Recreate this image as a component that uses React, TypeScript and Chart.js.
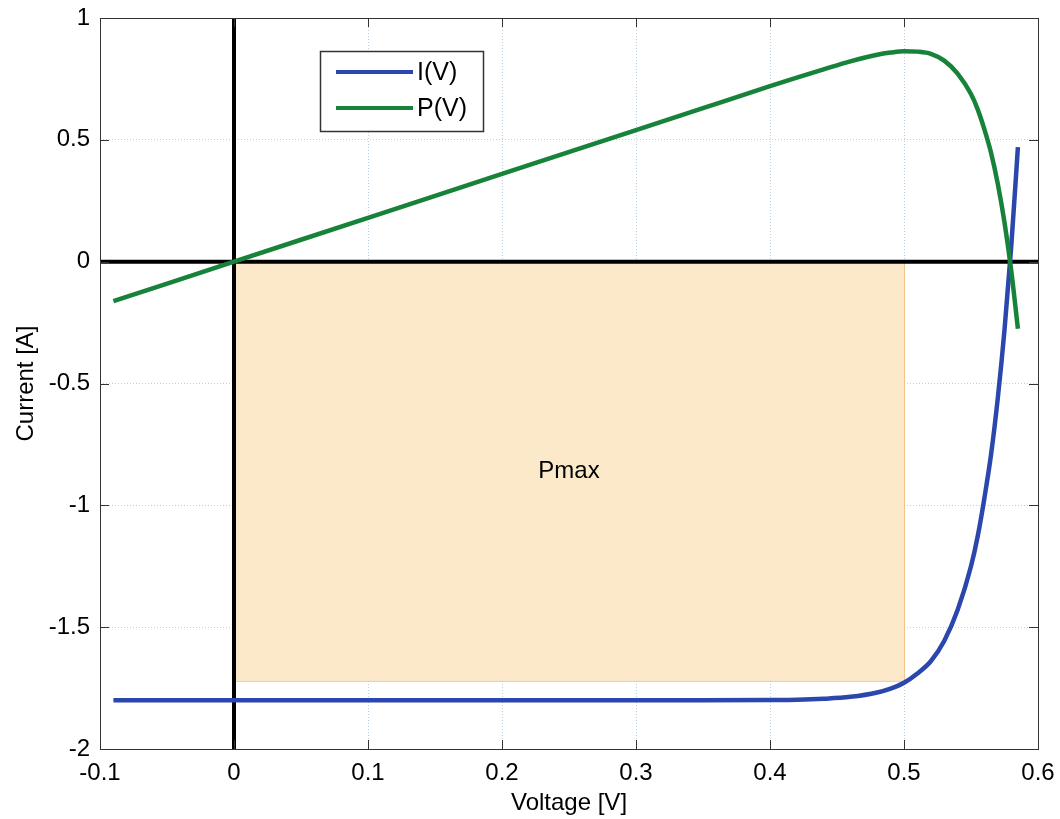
import React, { useEffect, useRef } from 'react';
import { Chart, registerables } from 'chart.js';

Chart.register(...registerables);

// ---- data ----
const voltage = [-0.09, 0, 0.1, 0.2, 0.3, 0.35, 0.4, 0.42, 0.44, 0.46, 0.48, 0.49, 0.5, 0.51, 0.52, 0.53, 0.54, 0.55, 0.555, 0.56, 0.565, 0.57, 0.575, 0.58, 0.585];
const current = [-1.8, -1.8, -1.8, -1.8, -1.8, -1.8, -1.799, -1.798, -1.794, -1.786, -1.768, -1.752, -1.728, -1.69, -1.64, -1.557, -1.43, -1.25, -1.127, -0.97, -0.79, -0.56, -0.28, 0.06, 0.47];
const power = [-0.162, 0, 0.18, 0.36, 0.54, 0.63, 0.72, 0.755, 0.789, 0.822, 0.849, 0.858, 0.864, 0.862, 0.853, 0.825, 0.772, 0.688, 0.625, 0.543, 0.446, 0.319, 0.161, -0.035, -0.275];
const seriesLabels = ['I(V)', 'P(V)'];
const seriesColors = ['#2b47ad', '#17823a'];
const xTickValues = [-0.1, 0, 0.1, 0.2, 0.3, 0.4, 0.5, 0.6];
const yTickValues = [-2, -1.5, -1, -0.5, 0, 0.5, 1];
const pmaxVoltage = [0, 0.5];
const pmaxCurrent = [0, -1.72];
const pmaxLabel = 'Pmax';

const FONT = '"Liberation Sans", Arial, Helvetica, sans-serif';

const overlayPlugin = {
  id: 'overlay',
  beforeDatasetsDraw(chart: any) {
    const { ctx, chartArea, scales } = chart;
    const xs = scales.x;
    const ys = scales.y;
    // Pmax rectangle
    const x0 = xs.getPixelForValue(pmaxVoltage[0]);
    const x1 = xs.getPixelForValue(pmaxVoltage[1]);
    const y0 = ys.getPixelForValue(pmaxCurrent[0]);
    const y1 = ys.getPixelForValue(pmaxCurrent[1]);
    ctx.save();
    ctx.fillStyle = '#fce9c9';
    ctx.fillRect(x0, y0, x1 - x0, y1 - y0);
    ctx.strokeStyle = '#f0c58c';
    ctx.lineWidth = 1;
    ctx.strokeRect(x0 + 0.5, y0 + 0.5, x1 - x0, y1 - y0);
    ctx.fillStyle = '#000';
    ctx.font = `24px ${FONT}`;
    ctx.textAlign = 'center';
    ctx.textBaseline = 'middle';
    ctx.fillText(pmaxLabel, (x0 + x1) / 2, (y0 + y1) / 2);
    // thick zero axes
    ctx.strokeStyle = '#000';
    ctx.lineWidth = 4;
    const zx = xs.getPixelForValue(0);
    const zy = ys.getPixelForValue(0);
    ctx.beginPath();
    ctx.moveTo(zx, chartArea.top);
    ctx.lineTo(zx, chartArea.bottom);
    ctx.moveTo(chartArea.left, zy);
    ctx.lineTo(chartArea.right, zy);
    ctx.stroke();
    ctx.restore();
  },
  afterDraw(chart: any) {
    const { ctx, chartArea, scales } = chart;
    const { left, right, top, bottom } = chartArea;
    ctx.save();
    ctx.strokeStyle = '#333';
    ctx.lineWidth = 1;
    ctx.strokeRect(left + 0.5, top + 0.5, right - left, bottom - top);
    // inward ticks
    const tl = 9;
    ctx.beginPath();
    xTickValues.forEach((v) => {
      const px = Math.round(scales.x.getPixelForValue(v)) + 0.5;
      ctx.moveTo(px, bottom);
      ctx.lineTo(px, bottom - tl);
      ctx.moveTo(px, top);
      ctx.lineTo(px, top + tl);
    });
    yTickValues.forEach((v) => {
      const py = Math.round(scales.y.getPixelForValue(v)) + 0.5;
      ctx.moveTo(left, py);
      ctx.lineTo(left + tl, py);
      ctx.moveTo(right, py);
      ctx.lineTo(right - tl, py);
    });
    ctx.stroke();
    // legend
    const lx = left + 220;
    const ly = top + 33;
    const lw = 163;
    const lh = 80;
    ctx.fillStyle = '#fff';
    ctx.fillRect(lx, ly, lw, lh);
    ctx.strokeStyle = '#333';
    ctx.lineWidth = 1.5;
    ctx.strokeRect(lx + 0.5, ly + 0.5, lw, lh);
    ctx.font = `25px ${FONT}`;
    ctx.textAlign = 'left';
    ctx.textBaseline = 'middle';
    seriesLabels.forEach((lab, i) => {
      const yy = ly + 21 + i * 36;
      ctx.strokeStyle = seriesColors[i];
      ctx.lineWidth = 4;
      ctx.beginPath();
      ctx.moveTo(lx + 16, yy);
      ctx.lineTo(lx + 93, yy);
      ctx.stroke();
      ctx.fillStyle = '#000';
      ctx.fillText(lab, lx + 97, yy + 1);
    });
    ctx.restore();
  },
};

export default function App() {
  const ref = useRef<HTMLCanvasElement | null>(null);
  useEffect(() => {
    document.body.style.margin = '0';
    const canvas = ref.current!;
    const chart = new Chart(canvas, {
      type: 'line',
      data: {
        datasets: [
          {
            label: seriesLabels[1],
            data: voltage.map((v, i) => ({ x: v, y: power[i] })),
            borderColor: seriesColors[1],
            borderWidth: 4.5,
            pointRadius: 0,
            cubicInterpolationMode: 'monotone',
            fill: false,
            order: 0,
          },
          {
            label: seriesLabels[0],
            data: voltage.map((v, i) => ({ x: v, y: current[i] })),
            borderColor: seriesColors[0],
            borderWidth: 4.5,
            pointRadius: 0,
            cubicInterpolationMode: 'monotone',
            fill: false,
            order: 1,
          },
        ],
      },
      options: {
        animation: false,
        responsive: false,
        devicePixelRatio: 1,
        layout: { padding: { top: 18, right: 22, left: 0, bottom: 0 } },
        plugins: { legend: { display: false }, tooltip: { enabled: false } },
        scales: {
          x: {
            type: 'linear',
            min: -0.1,
            max: 0.6,
            afterBuildTicks: (s: any) => {
              s.ticks = xTickValues.map((v) => ({ value: v }));
            },
            afterFit: (s: any) => {
              s.height = 70;
              s.paddingLeft = 0;
              s.paddingRight = 0;
            },
            ticks: {
              callback: (v: any) => String(v),
              font: { size: 24, family: FONT },
              color: '#000',
              padding: 10,
              maxRotation: 0,
              autoSkip: false,
            },
            grid: { color: '#b9d0e2', lineWidth: 1, drawTicks: false },
            border: { display: false, dash: [1, 2] },
            title: {
              display: true,
              text: 'Voltage [V]',
              font: { size: 24, family: FONT },
              color: '#000',
              padding: { top: 0, bottom: 1 },
            },
          },
          y: {
            type: 'linear',
            min: -2,
            max: 1,
            afterBuildTicks: (s: any) => {
              s.ticks = yTickValues.map((v) => ({ value: v }));
            },
            afterFit: (s: any) => {
              s.width = 100;
              s.paddingTop = 0;
              s.paddingBottom = 0;
            },
            ticks: {
              callback: (v: any) => String(v),
              font: { size: 24, family: FONT },
              color: '#000',
              padding: 10,
              autoSkip: false,
            },
            grid: { color: '#b9d0e2', lineWidth: 1, drawTicks: false },
            border: { display: false, dash: [1, 2] },
            title: {
              display: true,
              text: 'Current [A]',
              font: { size: 24, family: FONT },
              color: '#000',
              padding: { top: 12, bottom: 0 },
            },
          },
        },
      },
      plugins: [overlayPlugin],
    } as any);
    return () => chart.destroy();
  }, []);
  return (
    <div style={{ width: 1060, height: 819 }}>
      <canvas ref={ref} width={1060} height={819} style={{ display: 'block' }} />
    </div>
  );
}
